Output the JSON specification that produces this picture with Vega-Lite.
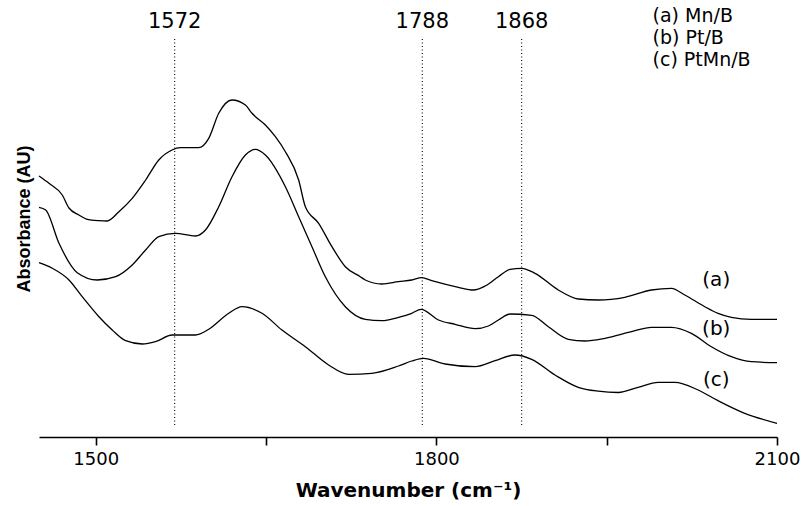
{
  "$schema": "https://vega.github.io/schema/vega-lite/v6.json",
  "width": 738,
  "height": 437,
  "autosize": {"type": "none"},
  "padding": {"left": 39, "top": 0, "right": 25, "bottom": 69},
  "background": "white",
  "config": {
    "view": {"stroke": null},
    "axis": {"grid": false}
  },
  "datasets": {
    "curves": [
      {"series": "a", "wn": 1450, "abs": 261},
      {"series": "a", "wn": 1458.8, "abs": 253.7},
      {"series": "a", "wn": 1470.5, "abs": 242},
      {"series": "a", "wn": 1476.4, "abs": 229},
      {"series": "a", "wn": 1485.2, "abs": 222},
      {"series": "a", "wn": 1492.5, "abs": 217.7},
      {"series": "a", "wn": 1502.8, "abs": 216.3},
      {"series": "a", "wn": 1510.1, "abs": 216},
      {"series": "a", "wn": 1520.4, "abs": 225.3},
      {"series": "a", "wn": 1532.1, "abs": 238.7},
      {"series": "a", "wn": 1543.9, "abs": 257},
      {"series": "a", "wn": 1555.5, "abs": 277},
      {"series": "a", "wn": 1567.2, "abs": 287},
      {"series": "a", "wn": 1574.6, "abs": 289.3},
      {"series": "a", "wn": 1590.7, "abs": 289.3},
      {"series": "a", "wn": 1599.5, "abs": 298.7},
      {"series": "a", "wn": 1608.3, "abs": 323.7},
      {"series": "a", "wn": 1620, "abs": 337},
      {"series": "a", "wn": 1631.8, "abs": 332},
      {"series": "a", "wn": 1637.6, "abs": 323.7},
      {"series": "a", "wn": 1649.4, "abs": 312},
      {"series": "a", "wn": 1658.2, "abs": 300.3},
      {"series": "a", "wn": 1667, "abs": 285.3},
      {"series": "a", "wn": 1678.7, "abs": 257},
      {"series": "a", "wn": 1684.6, "abs": 230.3},
      {"series": "a", "wn": 1696.3, "abs": 213.7},
      {"series": "a", "wn": 1708, "abs": 190.3},
      {"series": "a", "wn": 1719.8, "abs": 170.3},
      {"series": "a", "wn": 1733, "abs": 160.3},
      {"series": "a", "wn": 1737.4, "abs": 157},
      {"series": "a", "wn": 1752, "abs": 153},
      {"series": "a", "wn": 1766.6, "abs": 155.3},
      {"series": "a", "wn": 1778.3, "abs": 157},
      {"series": "a", "wn": 1787.1, "abs": 159.3},
      {"series": "a", "wn": 1795.9, "abs": 156.3},
      {"series": "a", "wn": 1819.4, "abs": 149.7},
      {"series": "a", "wn": 1832.6, "abs": 147},
      {"series": "a", "wn": 1842.9, "abs": 151},
      {"series": "a", "wn": 1854.6, "abs": 160.3},
      {"series": "a", "wn": 1864.9, "abs": 167.7},
      {"series": "a", "wn": 1875.1, "abs": 168.7},
      {"series": "a", "wn": 1886.9, "abs": 163.7},
      {"series": "a", "wn": 1907.4, "abs": 147},
      {"series": "a", "wn": 1925, "abs": 138},
      {"series": "a", "wn": 1942.6, "abs": 137},
      {"series": "a", "wn": 1966, "abs": 139.7},
      {"series": "a", "wn": 1989.4, "abs": 147},
      {"series": "a", "wn": 2007, "abs": 148.7},
      {"series": "a", "wn": 2018.8, "abs": 142},
      {"series": "a", "wn": 2036.4, "abs": 130.3},
      {"series": "a", "wn": 2048.1, "abs": 123.7},
      {"series": "a", "wn": 2059.8, "abs": 119.7},
      {"series": "a", "wn": 2077.4, "abs": 117.7},
      {"series": "a", "wn": 2100, "abs": 117.7},

      {"series": "b", "wn": 1450, "abs": 229.7},
      {"series": "b", "wn": 1455.9, "abs": 227},
      {"series": "b", "wn": 1467.6, "abs": 193.7},
      {"series": "b", "wn": 1483.7, "abs": 164.3},
      {"series": "b", "wn": 1501.3, "abs": 157},
      {"series": "b", "wn": 1517.5, "abs": 160.3},
      {"series": "b", "wn": 1532.1, "abs": 172},
      {"series": "b", "wn": 1543.9, "abs": 187},
      {"series": "b", "wn": 1555.5, "abs": 200.3},
      {"series": "b", "wn": 1570.2, "abs": 203.7},
      {"series": "b", "wn": 1587.8, "abs": 201},
      {"series": "b", "wn": 1596.6, "abs": 207},
      {"series": "b", "wn": 1608.3, "abs": 230.3},
      {"series": "b", "wn": 1620, "abs": 260.3},
      {"series": "b", "wn": 1631.8, "abs": 282},
      {"series": "b", "wn": 1640.6, "abs": 287.7},
      {"series": "b", "wn": 1649.4, "abs": 282},
      {"series": "b", "wn": 1667, "abs": 250.3},
      {"series": "b", "wn": 1678.7, "abs": 220.3},
      {"series": "b", "wn": 1690.4, "abs": 190.3},
      {"series": "b", "wn": 1702.2, "abs": 160.3},
      {"series": "b", "wn": 1719.8, "abs": 130.3},
      {"series": "b", "wn": 1737.4, "abs": 117.7},
      {"series": "b", "wn": 1752, "abs": 116.3},
      {"series": "b", "wn": 1766.6, "abs": 119.7},
      {"series": "b", "wn": 1778.3, "abs": 123.7},
      {"series": "b", "wn": 1786.6, "abs": 127.7},
      {"series": "b", "wn": 1801.8, "abs": 117},
      {"series": "b", "wn": 1816.5, "abs": 112.7},
      {"series": "b", "wn": 1834.1, "abs": 108.3},
      {"series": "b", "wn": 1845.8, "abs": 111},
      {"series": "b", "wn": 1854.6, "abs": 117},
      {"series": "b", "wn": 1864.9, "abs": 123},
      {"series": "b", "wn": 1883.9, "abs": 121.7},
      {"series": "b", "wn": 1898.6, "abs": 110.3},
      {"series": "b", "wn": 1916.2, "abs": 97.7},
      {"series": "b", "wn": 1930.9, "abs": 96},
      {"series": "b", "wn": 1948.5, "abs": 98.7},
      {"series": "b", "wn": 1971.9, "abs": 105.3},
      {"series": "b", "wn": 1989.4, "abs": 109.7},
      {"series": "b", "wn": 2007, "abs": 109.7},
      {"series": "b", "wn": 2024.6, "abs": 103.7},
      {"series": "b", "wn": 2042.2, "abs": 90.3},
      {"series": "b", "wn": 2059.8, "abs": 80.3},
      {"series": "b", "wn": 2077.4, "abs": 75.3},
      {"series": "b", "wn": 2100, "abs": 74.3},

      {"series": "c", "wn": 1450, "abs": 174.3},
      {"series": "c", "wn": 1461.7, "abs": 168.7},
      {"series": "c", "wn": 1476.4, "abs": 157},
      {"series": "c", "wn": 1488.1, "abs": 140.3},
      {"series": "c", "wn": 1502.8, "abs": 120.3},
      {"series": "c", "wn": 1514.5, "abs": 107},
      {"series": "c", "wn": 1526.3, "abs": 96.3},
      {"series": "c", "wn": 1540.9, "abs": 93},
      {"series": "c", "wn": 1552.6, "abs": 95.3},
      {"series": "c", "wn": 1567.2, "abs": 102},
      {"series": "c", "wn": 1587.8, "abs": 102},
      {"series": "c", "wn": 1599.5, "abs": 107.7},
      {"series": "c", "wn": 1617.1, "abs": 123.7},
      {"series": "c", "wn": 1628.8, "abs": 130.3},
      {"series": "c", "wn": 1646.4, "abs": 123.7},
      {"series": "c", "wn": 1664, "abs": 107},
      {"series": "c", "wn": 1684.6, "abs": 90.3},
      {"series": "c", "wn": 1705.1, "abs": 72},
      {"series": "c", "wn": 1722.7, "abs": 62.7},
      {"series": "c", "wn": 1743.2, "abs": 63.7},
      {"series": "c", "wn": 1766.6, "abs": 71},
      {"series": "c", "wn": 1778.3, "abs": 76},
      {"series": "c", "wn": 1788.6, "abs": 78.7},
      {"series": "c", "wn": 1807.7, "abs": 73},
      {"series": "c", "wn": 1834.1, "abs": 70.3},
      {"series": "c", "wn": 1851.7, "abs": 76.3},
      {"series": "c", "wn": 1869.3, "abs": 82},
      {"series": "c", "wn": 1883.9, "abs": 77.7},
      {"series": "c", "wn": 1904.5, "abs": 62},
      {"series": "c", "wn": 1925, "abs": 49.7},
      {"series": "c", "wn": 1942.6, "abs": 45.8},
      {"series": "c", "wn": 1960.2, "abs": 44.5},
      {"series": "c", "wn": 1977.7, "abs": 49.7},
      {"series": "c", "wn": 1995.3, "abs": 54.7},
      {"series": "c", "wn": 2010, "abs": 54.7},
      {"series": "c", "wn": 2030.5, "abs": 47},
      {"series": "c", "wn": 2048.1, "abs": 36.3},
      {"series": "c", "wn": 2071.6, "abs": 23.7},
      {"series": "c", "wn": 2100, "abs": 13.7}
    ],
    "peaks": [
      {"label": "1572", "pos": 1569.5},
      {"label": "1788", "pos": 1787.6},
      {"label": "1868", "pos": 1875.1}
    ],
    "curveLabels": [
      {"label": "(a)", "wn": 2046.5, "abs": 157},
      {"label": "(b)", "wn": 2046.5, "abs": 108},
      {"label": "(c)", "wn": 2046.5, "abs": 57}
    ],
    "legend": [
      {"label": "(a) Mn/B", "wn": 1990.4, "abs": 421},
      {"label": "(b) Pt/B", "wn": 1990.4, "abs": 399},
      {"label": "(c) PtMn/B", "wn": 1990.4, "abs": 377}
    ]
  },
  "layer": [
    {
      "data": {"name": "curves"},
      "mark": {"type": "line", "color": "black", "strokeWidth": 1.3, "interpolate": "monotone"},
      "encoding": {
        "x": {
          "field": "wn", "type": "quantitative",
          "scale": {"domain": [1450, 2100], "nice": false, "zero": false},
          "axis": {
            "title": "Wavenumber (cm⁻¹)",
            "values": [1500, 1650, 1800, 1950, 2100],
            "labelExpr": "datum.value % 300 == 0 ? datum.label : ''",
            "labelFont": "DejaVu Sans", "labelFontSize": 18, "labelColor": "black",
            "labelPadding": 5, "labelFlush": false,
            "format": "d",
            "domainColor": "black", "domainWidth": 1.6,
            "tickColor": "black", "tickWidth": 1.6, "tickSize": 8,
            "titleFont": "DejaVu Sans", "titleFontSize": 20, "titleFontWeight": "bold",
            "titleColor": "black", "titlePadding": 12
          }
        },
        "y": {
          "field": "abs", "type": "quantitative",
          "scale": {"domain": [0, 437], "nice": false, "zero": false},
          "axis": {
            "title": "Absorbance (AU)",
            "domain": false, "ticks": false, "labels": false,
            "titleFont": "Liberation Sans", "titleFontSize": 18, "titleFontWeight": "bold",
            "titleColor": "black", "titlePadding": 6
          }
        },
        "detail": {"field": "series"}
      }
    },
    {
      "data": {"name": "peaks"},
      "mark": {"type": "rule", "color": "black", "strokeWidth": 1.1, "strokeDash": [1, 2.5]},
      "encoding": {
        "x": {"field": "pos", "type": "quantitative"},
        "y": {"datum": 12},
        "y2": {"datum": 398}
      }
    },
    {
      "data": {"name": "peaks"},
      "mark": {"type": "text", "font": "DejaVu Sans", "fontSize": 21, "color": "black", "baseline": "middle", "align": "center"},
      "encoding": {
        "x": {"field": "pos", "type": "quantitative"},
        "y": {"datum": 415},
        "text": {"field": "label"}
      }
    },
    {
      "data": {"name": "curveLabels"},
      "mark": {"type": "text", "font": "DejaVu Sans", "fontSize": 20, "color": "black", "baseline": "middle", "align": "center"},
      "encoding": {
        "x": {"field": "wn", "type": "quantitative"},
        "y": {"field": "abs", "type": "quantitative"},
        "text": {"field": "label"}
      }
    },
    {
      "data": {"name": "legend"},
      "mark": {"type": "text", "font": "DejaVu Sans", "fontSize": 19, "color": "black", "baseline": "middle", "align": "left"},
      "encoding": {
        "x": {"field": "wn", "type": "quantitative"},
        "y": {"field": "abs", "type": "quantitative"},
        "text": {"field": "label"}
      }
    }
  ]
}
